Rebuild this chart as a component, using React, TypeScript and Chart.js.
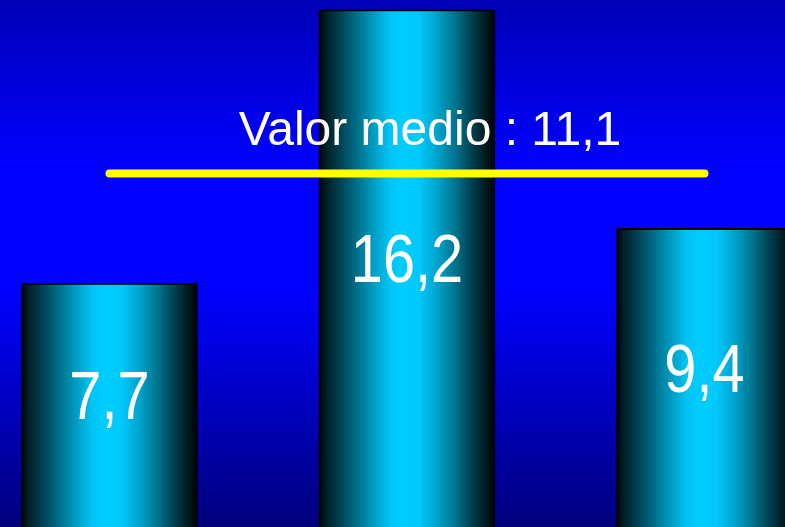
import React, { useEffect, useRef } from "react";
import { Chart, registerables } from "chart.js";

Chart.register(...registerables);

const categories = ["Serie 1", "Serie 2", "Serie 3"];
const values = [7.7, 16.2, 9.4];
const meanValue = 11.1;
const meanLabel = "Valor medio : 11,1";

const W = 785;
const H = 527;

function fmt(v: number): string {
  return v.toFixed(1).replace(".", ",");
}

function barGradient(ctx: CanvasRenderingContext2D, x0: number, x1: number) {
  const g = ctx.createLinearGradient(x0, 0, x1, 0);
  g.addColorStop(0, "#000000");
  g.addColorStop(0.03, "#001a20");
  g.addColorStop(0.1, "#003848");
  g.addColorStop(0.2, "#006880");
  g.addColorStop(0.3, "#0098bc");
  g.addColorStop(0.4, "#00c4f4");
  g.addColorStop(0.47, "#00ccff");
  g.addColorStop(0.57, "#00c8fa");
  g.addColorStop(0.67, "#00a4cc");
  g.addColorStop(0.78, "#007088");
  g.addColorStop(0.88, "#003a48");
  g.addColorStop(0.96, "#001418");
  g.addColorStop(1, "#000000");
  return g;
}

export default function App() {
  const ref = useRef<HTMLCanvasElement>(null);

  useEffect(() => {
    document.body.style.margin = "0";
    const canvas = ref.current;
    if (!canvas) return;

    const bgPlugin = {
      id: "bgGradient",
      beforeDraw(chart: any) {
        const { ctx } = chart;
        const g = ctx.createLinearGradient(0, 0, 0, chart.height);
        g.addColorStop(0, "#0000b8");
        g.addColorStop(0.32, "#0000ff");
        g.addColorStop(0.55, "#0000ff");
        g.addColorStop(1, "#00007c");
        ctx.save();
        ctx.fillStyle = g;
        ctx.fillRect(0, 0, chart.width, chart.height);
        ctx.restore();
      },
      beforeDatasetsDraw(chart: any) {
        const meta = chart.getDatasetMeta(0);
        meta.data.forEach((el: any) => {
          const half = el.width / 2;
          if (el.options && isFinite(el.x)) {
            el.options.backgroundColor = barGradient(chart.ctx, el.x - half, el.x + half);
          }
        });
      },
    };

    const overlayPlugin = {
      id: "overlay",
      afterDatasetsDraw(chart: any) {
        const { ctx, chartArea, scales } = chart;
        const meta = chart.getDatasetMeta(0);
        ctx.save();
        // value labels
        ctx.fillStyle = "#ffffff";
        ctx.textAlign = "center";
        ctx.textBaseline = "alphabetic";
        ctx.font = '68px "Liberation Sans", Arial, sans-serif';
        meta.data.forEach((el: any, i: number) => {
          const mid = (el.y + chartArea.bottom) / 2 - 10;
          ctx.save();
          ctx.translate(el.x, mid + 24);
          ctx.scale(0.85, 1);
          ctx.fillText(fmt(values[i]), 0, 0);
          ctx.restore();
        });
        // mean line
        const y = scales.y.getPixelForValue(meanValue);
        const xa = scales.x.getPixelForValue(0);
        const xb = scales.x.getPixelForValue(values.length - 1);
        ctx.strokeStyle = "#ffff00";
        ctx.lineWidth = 8;
        ctx.lineCap = "round";
        ctx.beginPath();
        ctx.moveTo(xa, y);
        ctx.lineTo(xb, y);
        ctx.stroke();
        // mean label
        ctx.fillStyle = "#ffffff";
        ctx.font = '48px "Liberation Sans", Arial, sans-serif';
        ctx.textAlign = "center";
        ctx.fillText(meanLabel, (xa + xb) / 2 + 23, y - 29);
        ctx.restore();
      },
    };

    const chart = new Chart(canvas, {
      type: "bar",
      data: {
        labels: categories,
        datasets: [
          {
            label: "Valor",
            data: values.map((v, i) => ({ x: i, y: v })),
            barThickness: 176,
            borderColor: "#000000",
            borderWidth: { top: 2, left: 2, right: 2, bottom: 0 },
            borderSkipped: "start",
            backgroundColor: (c: any) => (c.dataIndex === undefined ? "#00ccff" : "#00ccff"),
          },
        ],
      },
      options: {
        responsive: false,
        animation: false,
        devicePixelRatio: 1,
        layout: { padding: 0 },
        plugins: {
          legend: { display: false },
          tooltip: { enabled: false },
        },
        scales: {
          x: { type: "linear", offset: false, min: -0.368, max: 2.2706, display: false },
          y: { min: 0.118, max: 16.495, display: false },
        },
      },
      plugins: [bgPlugin, overlayPlugin],
    } as any);

    return () => chart.destroy();
  }, []);

  return (
    <div style={{ width: W, height: H, overflow: "hidden" }}>
      <canvas ref={ref} width={W} height={H} style={{ display: "block" }} />
    </div>
  );
}
